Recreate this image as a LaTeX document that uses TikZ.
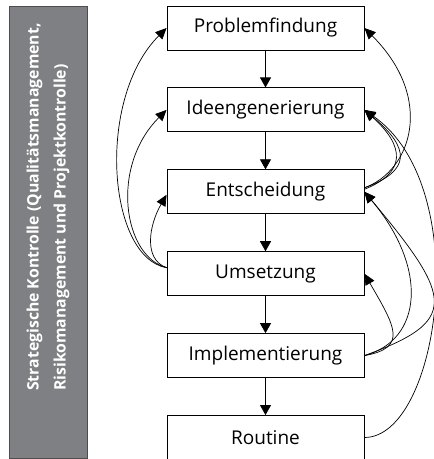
\documentclass[tikz,border=0pt]{standalone}
\usepackage{fontspec}
\setmainfont{Open Sans}
\usetikzlibrary{arrows.meta,positioning,calc}
\definecolor{barfill}{HTML}{7F8083}
\definecolor{barline}{HTML}{4D4D4D}
\begin{document}
\begin{tikzpicture}[x=1pt,y=1pt,line cap=round,node distance=37pt,
  phase/.style={draw,line width=0.9pt,minimum width=197pt,minimum height=44pt,inner sep=0pt,font=\fontsize{19}{22}\selectfont},
  flow/.style={-{Triangle[length=10pt,width=11pt]},line width=0.8pt},
  back/.style={-{Triangle[length=11pt,width=10pt]},line width=0.7pt}]
  \useasboundingbox (0,0) rectangle (434,459);
  % control bar
  \node[fill=barfill,draw=barline,line width=0.8pt,minimum width=78pt,minimum height=452pt,inner sep=0pt] (bar) at (48,227) {};
  \node[rotate=90,align=left,text=white,font=\bfseries\fontsize{15.8}{27}\selectfont] (ctrl) at (48,252)
    {Strategische Kontrolle (Qualitätsmanagement,\\Risikomanagement und Projektkontrolle)};
  % phases
  \node[phase] (pf) at (265.5,431) {Problemfindung};
  \node[phase,below=of pf] (ig) {Ideengenerierung};
  \node[phase,below=of ig] (ent) {Entscheidung};
  \node[phase,below=of ent] (um) {Umsetzung};
  \node[phase,below=of um] (impl) {Implementierung};
  \node[phase,below=of impl] (rt) {Routine};
  \draw[flow] (pf) -- (ig);
  \draw[flow] (ig) -- (ent);
  \draw[flow] (ent) -- (um);
  \draw[flow] (um) -- (impl);
  \draw[flow] (impl) -- (rt);
  % feedback left
  \coordinate (um-out) at ($(um.west)+(0,6)$);
  \coordinate (ent-in) at ($(ent.west)+(0,-3)$);
  \draw[back] (um-out) .. controls +(170:60) and +(225:100) .. (pf.west);
  \draw[back] (um-out) .. controls +(165:45) and +(225:80) .. (ig.west);
  \draw[back] (um-out) .. controls +(160:25) and +(240:35) .. (ent-in);
  % feedback right
  \coordinate (ent-out) at ($(ent.east)+(0,4)$);
  \draw[back] (ent-out) .. controls +(20:50) and +(-45:100) .. (pf.east);
  \draw[back] (ent-out) .. controls +(20:50) and +(-40:60) .. (ig.east);
  \draw[back] ($(ent-out)+(0,-1.5)$) .. controls +(22:45) and +(-42:55) .. (ig.east);
  \draw[back] (impl.east) .. controls +(10:45) and +(-60:60) .. (um.east);
  \draw[back] (impl.east) .. controls +(15:60) and +(-50:100) .. (ent.east);
  \draw[back] (impl.east) .. controls +(20:100) and +(-50:140) .. (ent.east);
  \draw[back] (rt.east) .. controls +(0:75) and +(-35:135) .. (ig.east);
\end{tikzpicture}
\end{document}
